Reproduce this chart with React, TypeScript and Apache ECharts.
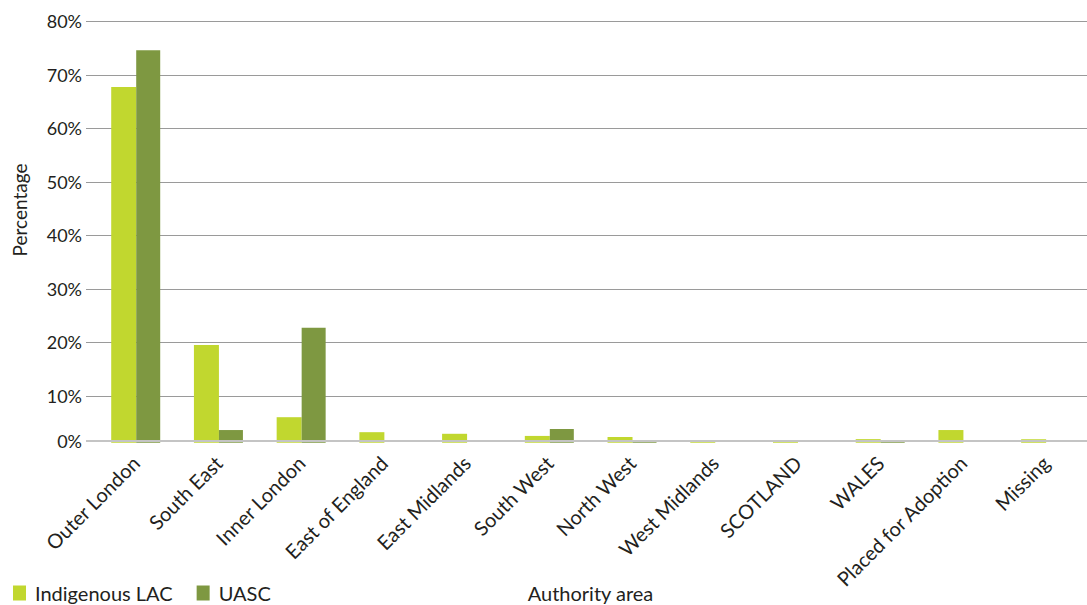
import React, { useEffect, useRef } from "react";
import * as echarts from "echarts";

const categories = [
  "Outer London",
  "South East",
  "Inner London",
  "East of England",
  "East Midlands",
  "South West",
  "North West",
  "West Midlands",
  "SCOTLAND",
  "WALES",
  "Placed for Adoption",
  "Missing",
];
const indigenousLAC = [67.7, 19.5, 6.0, 3.2, 2.9, 2.5, 2.3, 1.65, 1.65, 1.9, 3.6, 1.9];
const uasc = [74.6, 3.6, 22.7, null, null, 3.8, 1.6, null, null, 1.6, null, null];
const yMin = 0;
const yMax = 80;
const yStep = 10;
const baselineValue = 1.55;
const barStartValue = 1.23;

const FONT = "Lato";
const TEXT = "#231f20";
const LIGHT = "#c1d72f";
const DARK = "#7e9841";

export default function App() {
  const ref = useRef<HTMLDivElement>(null);
  useEffect(() => {
    if (!ref.current) return;
    const chart = echarts.init(ref.current, undefined, { renderer: "svg" });
    chart.setOption({
      animation: false,
      textStyle: { fontFamily: FONT, color: TEXT },
      grid: [
        { left: 86, right: -20, top: 21.3, bottom: 155.7 },
        { left: 94.35, right: -19, top: 21.3, bottom: 155.7 },
      ],
      legend: {
        data: ["Indigenous LAC", "UASC"],
        left: 13,
        top: 583,
        padding: 0,
        itemWidth: 13,
        itemHeight: 15,
        itemGap: 24,
        icon: "rect",
        textStyle: { fontSize: 20, fontFamily: FONT, color: TEXT, padding: [0, 0, 0, 4] },
      },
      xAxis: [
        {
          type: "category",
          gridIndex: 0,
          data: categories,
          show: false,
        },
        {
          type: "category",
          gridIndex: 1,
          data: categories,
          axisLine: { show: false },
          axisTick: { show: false },
          axisLabel: {
            rotate: 45,
            margin: 10,
            interval: 0,
            fontSize: 20,
            fontFamily: FONT,
            color: TEXT,
          },
        },
      ],
      yAxis: [
        {
          type: "value",
          gridIndex: 0,
          min: yMin,
          max: yMax,
          interval: yStep,
          axisLine: { show: false },
          axisTick: { show: false },
          axisLabel: {
            formatter: "{value}%",
            showMinLabel: false,
            margin: 4,
            fontSize: 18,
            fontFamily: FONT,
            color: TEXT,
          },
          splitLine: { show: true, showMinLine: false, lineStyle: { color: "#9a9a9a", width: 1 } },
        },
        {
          type: "value",
          gridIndex: 1,
          min: yMin,
          max: yMax,
          interval: yStep,
          startValue: barStartValue,
          show: false,
          splitLine: { show: false },
        },
      ],
      graphic: [
        {
          type: "text",
          x: 19,
          y: 210,
          rotation: Math.PI / 2,
          style: {
            text: "Percentage",
            font: `19px ${FONT}`,
            fill: TEXT,
            align: "center",
            verticalAlign: "middle",
          },
        },
        {
          type: "text",
          x: 590.5,
          y: 593,
          style: {
            text: "Authority area",
            font: `20px ${FONT}`,
            fill: TEXT,
            align: "center",
            verticalAlign: "middle",
          },
        },
      ],
      series: [
        {
          name: "baseline",
          type: "line",
          xAxisIndex: 0,
          yAxisIndex: 0,
          data: [],
          silent: true,
          z: 1,
          markLine: {
            silent: true,
            symbol: "none",
            animation: false,
            lineStyle: { color: "#c4c4c4", width: 2, type: "solid" },
            label: {
              show: true,
              position: "start",
              distance: 4,
              formatter: "0%",
              fontSize: 18,
              fontFamily: FONT,
              color: TEXT,
            },
            data: [{ yAxis: baselineValue }],
          },
        },
        {
          name: "Indigenous LAC",
          type: "bar",
          xAxisIndex: 1,
          yAxisIndex: 1,
          data: indigenousLAC,
          barWidth: 25,
          barGap: "0%",
          itemStyle: { color: LIGHT },
          z: 3,
        },
        {
          name: "UASC",
          type: "bar",
          xAxisIndex: 1,
          yAxisIndex: 1,
          data: uasc,
          barWidth: 24,
          barGap: "0%",
          itemStyle: { color: DARK },
          z: 3,
        },
      ],
    });
    return () => chart.dispose();
  }, []);
  return (
    <div
      ref={ref}
      style={{ position: "fixed", left: 0, top: 0, width: 1087, height: 605, background: "#fff" }}
    />
  );
}
